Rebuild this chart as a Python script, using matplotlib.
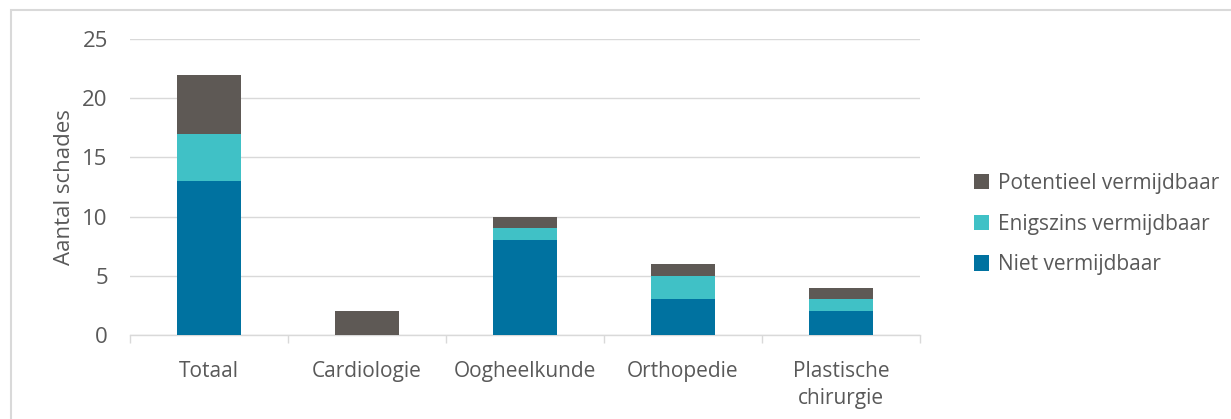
import matplotlib
matplotlib.use("Agg")
import matplotlib.pyplot as plt
from matplotlib.patches import Rectangle
import numpy as np

categories = ["Totaal", "Cardiologie", "Oogheelkunde", "Orthopedie", "Plastische\nchirurgie"]
niet = [13, 0, 8, 3, 2]
enigszins = [4, 0, 1, 2, 1]
potentieel = [5, 2, 1, 1, 1]
yticks = [0, 5, 10, 15, 20, 25]

c_niet = "#0072A0"
c_enig = "#40C1C6"
c_pot = "#5E5955"
txt = "#595959"
grid = "#D9D9D9"

plt.rcParams['font.family'] = ['Open Sans', 'DejaVu Sans']

fig = plt.figure(figsize=(12.31, 4.19), dpi=100)
ax = fig.add_axes([130/1231, 1-335/419, 790/1231, 296/419])

x = np.arange(len(categories))
w = 0.4
b1 = ax.bar(x, niet, w, color=c_niet, label="Niet vermijdbaar", zorder=3)
b2 = ax.bar(x, enigszins, w, bottom=niet, color=c_enig, label="Enigszins vermijdbaar", zorder=3)
bot3 = [a + b for a, b in zip(niet, enigszins)]
b3 = ax.bar(x, potentieel, w, bottom=bot3, color=c_pot, label="Potentieel vermijdbaar", zorder=3)

ax.set_xlim(-0.5, len(categories) - 0.5)
ax.set_ylim(0, 25)
ax.set_yticks(yticks)
ax.yaxis.grid(True, color=grid, linewidth=1)
ax.set_axisbelow(True)
for s in ["top", "right", "left"]:
    ax.spines[s].set_visible(False)
ax.spines["bottom"].set_color(grid)
ax.spines["bottom"].set_linewidth(1)

ax.set_xticks(np.arange(-0.5, len(categories), 1.0))
ax.set_xticklabels([])
ax.set_xticks(x, minor=True)
ax.set_xticklabels(categories, minor=True, fontsize=15, color=txt, linespacing=1.4)
ax.tick_params(axis="x", which="major", length=6, color=grid, width=1)
ax.tick_params(axis="x", which="minor", length=0, pad=18.5)
ax.tick_params(axis="y", length=0, labelsize=16, labelcolor=txt, pad=16)

ax.set_ylabel("Aantal schades", fontsize=16, color=txt, labelpad=5)

handles = [b3, b2, b1]
leg = fig.legend(handles, [h.get_label() for h in handles], loc="center left",
                 bbox_to_anchor=(955/1231, 1-224/419), frameon=False,
                 fontsize=15, labelcolor=txt, handlelength=0.75, handleheight=0.75,
                 handletextpad=0.4, labelspacing=0.95)

fig.patches.append(Rectangle((11/1231, -0.1), 1.2, 1.1 - 10/419, transform=fig.transFigure,
                             fill=False, edgecolor="#D9D9D9", linewidth=1.5))

fig.savefig("out.png", dpi=100, facecolor="white")
